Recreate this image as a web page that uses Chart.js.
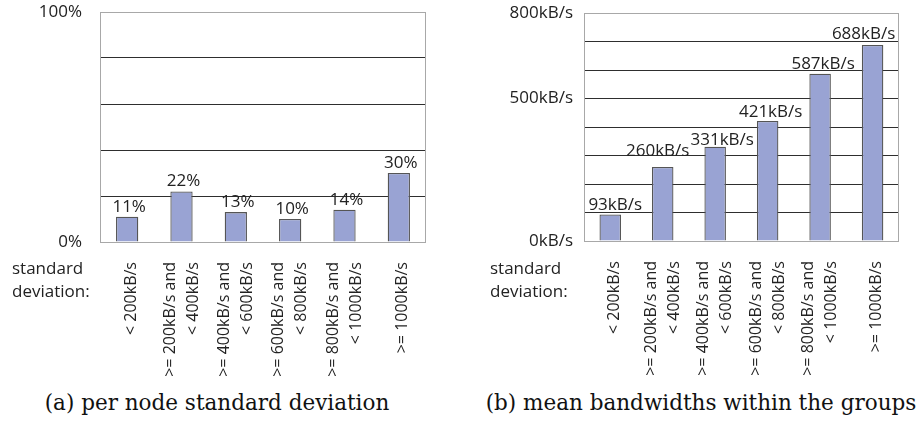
<!DOCTYPE html>
<html>
<head>
<meta charset="utf-8">
<script src="https://cdn.jsdelivr.net/npm/chart.js@4.4.1/dist/chart.umd.min.js"></script>
<style>
    body { margin: 0; background: #fff; }
    #wrap { position: relative; width: 917px; height: 424px; overflow: hidden; font-family: 'Open Sans', sans-serif; }
    .panel { position: absolute; top: 0; width: 457px; height: 380px; }
    .sd { position: absolute; top: 256px; font-size: 17px; line-height: 23px; color: #222; }
    .cap { position: absolute; top: 390px; font-family: 'DejaVu Serif', serif; font-size: 21.5px; color: #111; white-space: nowrap; transform: translateX(-50%); }
</style>
</head>
<body>
<div id="wrap">
    <div class="panel" style="left:0"><canvas id="chartA" width="457" height="380"></canvas></div>
    <div class="panel" style="left:460px"><canvas id="chartB" width="457" height="380"></canvas></div>
    <div class="sd" style="left:12px">standard<br>deviation:</div>
    <div class="sd" style="left:490px">standard<br>deviation:</div>
    <div class="cap" style="left:217px">(a) per node standard deviation</div>
    <div class="cap" style="left:701px">(b) mean bandwidths within the groups</div>
</div>

<script>
// Data
const categories = [
    '< 200kB/s',
    ['>= 200kB/s and', '< 400kB/s'],
    ['>= 400kB/s and', '< 600kB/s'],
    ['>= 600kB/s and', '< 800kB/s'],
    ['>= 800kB/s and', '< 1000kB/s'],
    '>= 1000kB/s'
];
const stdShare = [11, 22, 13, 10, 14, 30];          // percent of nodes
const meanBandwidth = [93, 260, 331, 421, 587, 688]; // kB/s
const shareTicks = [0, 100];
const bandwidthTicks = [0, 500, 800];

// label nudges for panel (b) (dx, gap above bar)
const bwLabelDx = [5, -5, 7, 3, 3, -9];
const bwLabelGap = [4, 11, 2, 4, 5, 6];

const FONT = "'Open Sans', sans-serif";
const BAR_FILL = '#99a3d3';
const BAR_EDGE = '#555555';
const FRAME = '#a8a8a8';
const GRID = '#2e2e2e';

// single-line labels get an empty first line so every label sits like the reference
const tickLabels = categories.map(c => Array.isArray(c) ? c : ['', c]);

// Draw value labels above the bars
const valueLabels = {
    id: 'valueLabels',
    afterDatasetsDraw(chart, args, opts) {
        const ctx = chart.ctx;
        const meta = chart.getDatasetMeta(0);
        ctx.save();
        ctx.font = '17px ' + FONT;
        ctx.fillStyle = '#222';
        ctx.textAlign = 'center';
        ctx.textBaseline = 'alphabetic';
        meta.data.forEach((bar, i) => {
            const dx = opts.dx ? opts.dx[i] : 2;
            const gap = opts.gap ? opts.gap[i] : 5;
            ctx.fillText(opts.format(chart.data.datasets[0].data[i]), bar.x + dx, bar.y - gap);
        });
        ctx.restore();
    }
};

// Grey frame round the plot area
const frame = {
    id: 'frame',
    beforeDatasetsDraw(chart) {
        const a = chart.chartArea;
        const ctx = chart.ctx;
        ctx.save();
        ctx.strokeStyle = FRAME;
        ctx.lineWidth = 1;
        ctx.strokeRect(Math.round(a.left) + 0.5, Math.round(a.top) + 0.5,
            Math.round(a.right - a.left) - 1, Math.round(a.bottom - a.top));
        ctx.restore();
    }
};

function makeChart(id, values, maxVal, step, shownTicks, unit, leftW, rightPad, topPad, bottom, yPad, labelOpts) {
    return new Chart(document.getElementById(id), {
        type: 'bar',
        data: {
            labels: tickLabels,
            datasets: [{
                data: values,
                backgroundColor: BAR_FILL,
                borderColor: BAR_EDGE,
                borderWidth: 1.3,
                barPercentage: 0.41,
                categoryPercentage: 1
            }]
        },
        options: {
            responsive: false,
            animation: false,
            layout: { padding: { top: topPad, right: rightPad, left: 0, bottom: 0 } },
            plugins: {
                legend: { display: false },
                tooltip: { enabled: false },
                valueLabels: labelOpts
            },
            scales: {
                x: {
                    grid: { display: false },
                    border: { display: false },
                    ticks: {
                        autoSkip: false,
                        minRotation: 90,
                        maxRotation: 90,
                        padding: 12,
                        labelOffset: -11.5,
                        color: '#222',
                        font: (c) => {
                            const single = !Array.isArray(categories[c.index]);
                            return { family: FONT, size: 16, lineHeight: single ? 15.5 / 16 : 23 / 16 };
                        }
                    },
                    afterFit: (scale) => { scale.height = 380 - bottom; }
                },
                y: {
                    min: 0,
                    max: maxVal,
                    border: { display: false },
                    grid: {
                        drawTicks: false,
                        lineWidth: 1,
                        color: (c) => (c.tick.value === 0 || c.tick.value === maxVal) ? 'rgba(0,0,0,0)' : GRID
                    },
                    ticks: {
                        stepSize: step,
                        padding: yPad,
                        color: '#222',
                        font: { family: FONT, size: 17 },
                        callback: (v) => shownTicks.includes(v) ? v + unit : ''
                    },
                    afterFit: (scale) => {
                        scale.width = leftW;
                        scale.paddingTop = 0;
                        scale.paddingBottom = 0;
                    }
                }
            }
        },
        plugins: [frame, valueLabels]
    });
}

makeChart('chartA', stdShare, 100, 20, shareTicks, '%', 100, 31, 12, 242, 18, {
    format: v => v + '%'
});

makeChart('chartB', meanBandwidth, 800, 100, bandwidthTicks, 'kB/s', 124, 17, 13, 241, 11, {
    format: v => v + 'kB/s',
    dx: bwLabelDx,
    gap: bwLabelGap
});
</script>
</body>
</html>
